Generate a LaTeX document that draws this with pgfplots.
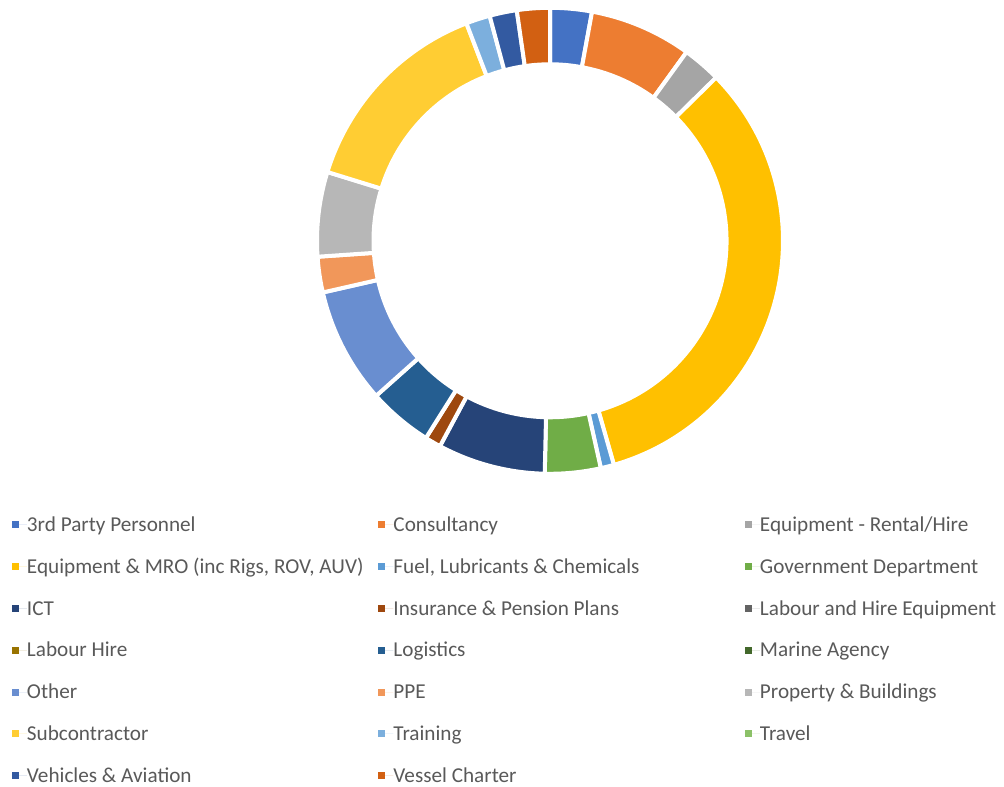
\documentclass[border=0pt]{standalone}
\usepackage{pgfplots}
\pgfplotsset{compat=1.18}
\usepackage{pgfplotstable}
\usepackage{fontspec}
\setmainfont{Carlito}
\definecolor{legendgray}{HTML}{595959}
\definecolor{c1}{HTML}{4472C4}
\definecolor{c2}{HTML}{ED7D31}
\definecolor{c3}{HTML}{A5A5A5}
\definecolor{c4}{HTML}{FFC000}
\definecolor{c5}{HTML}{5B9BD5}
\definecolor{c6}{HTML}{70AD47}
\definecolor{c7}{HTML}{264478}
\definecolor{c8}{HTML}{9E480E}
\definecolor{c9}{HTML}{636363}
\definecolor{c10}{HTML}{997300}
\definecolor{c11}{HTML}{255E91}
\definecolor{c12}{HTML}{43682B}
\definecolor{c13}{HTML}{698ED0}
\definecolor{c14}{HTML}{F1975A}
\definecolor{c15}{HTML}{B7B7B7}
\definecolor{c16}{HTML}{FFCD33}
\definecolor{c17}{HTML}{7CAFDD}
\definecolor{c18}{HTML}{8CC168}
\definecolor{c19}{HTML}{335AA1}
\definecolor{c20}{HTML}{D26012}

% category share (percent), slice colour
\pgfplotstableread{
value color
2.89  c1
7.08  c2
2.67  c3
32.94 c4
0.92  c5
3.86  c6
7.47  c7
1.11  c8
0     c9
0     c10
4.47  c11
0     c12
8.03  c13
2.47  c14
5.86  c15
14.39 c16
1.67  c17
0     c18
1.89  c19
2.28  c20
}\data

\newcommand{\LE}[1]{\makebox[351.5pt][l]{#1}}

\begin{document}
\begin{tikzpicture}
\useasboundingbox (0,0) rectangle (1004pt,787pt);
\begin{axis}[
  x=1pt, y=1pt,
  xmin=0, xmax=1004, ymin=0, ymax=787,
  at={(0,0)}, anchor=south west,
  hide axis, clip=false,
  legend columns=3,
  legend cell align=left,
  legend image code/.code={\fill[#1] (0pt,-3.5pt) rectangle (7pt,3.5pt); \path (0pt,0pt) -- (15pt,0pt);},
  legend style={at={(axis cs:12,283)}, anchor=north west, draw=none, fill=none,
    inner sep=0pt, outer sep=0pt, row sep=0pt, column sep=0pt,
    font=\fontsize{21.2}{25}\selectfont, text=legendgray,
    nodes={inner sep=0pt, text height=27.6pt, text depth=14.2pt}},
]
\pgfplotstablegetrowsof{\data}
\pgfmathtruncatemacro\N{\pgfplotsretval-1}
\gdef\cum{0}
\pgfplotsforeachungrouped \i in {0,...,\N}{%
  \pgfplotstablegetelem{\i}{value}\of\data \let\sval\pgfplotsretval
  \pgfplotstablegetelem{\i}{color}\of\data \let\slicecol\pgfplotsretval
  \pgfmathsetmacro\aone{90-3.6*\cum}%
  \pgfmathsetmacro\atwo{90-3.6*(\cum+\sval)}%
  \pgfmathsetmacro\cum{\cum+\sval}%
  \ifdim\sval pt>0pt
    \edef\temp{\noexpand\path[fill=\slicecol, draw=white, line width=4pt]
      ([shift={(\aone:233pt)}]axis cs:550,546.2) arc[start angle=\aone, end angle=\atwo, radius=233pt]
      -- ([shift={(\atwo:176.5pt)}]axis cs:550,546.2) arc[start angle=\atwo, end angle=\aone, radius=176.5pt] -- cycle;}%
    \temp
  \fi
}

\addlegendimage{fill=c1, draw=none}\addlegendentry{\LE{3rd Party Personnel}}
\addlegendimage{fill=c2, draw=none}\addlegendentry{\LE{Consultancy}}
\addlegendimage{fill=c3, draw=none}\addlegendentry{Equipment - Rental/Hire}
\addlegendimage{fill=c4, draw=none}\addlegendentry{\LE{Equipment \& MRO (inc Rigs, ROV, AUV)}}
\addlegendimage{fill=c5, draw=none}\addlegendentry{\LE{Fuel, Lubricants \& Chemicals}}
\addlegendimage{fill=c6, draw=none}\addlegendentry{Government Department}
\addlegendimage{fill=c7, draw=none}\addlegendentry{\LE{ICT}}
\addlegendimage{fill=c8, draw=none}\addlegendentry{\LE{Insurance \& Pension Plans}}
\addlegendimage{fill=c9, draw=none}\addlegendentry{Labour and Hire Equipment}
\addlegendimage{fill=c10, draw=none}\addlegendentry{\LE{Labour Hire}}
\addlegendimage{fill=c11, draw=none}\addlegendentry{\LE{Logistics}}
\addlegendimage{fill=c12, draw=none}\addlegendentry{Marine Agency}
\addlegendimage{fill=c13, draw=none}\addlegendentry{\LE{Other}}
\addlegendimage{fill=c14, draw=none}\addlegendentry{\LE{PPE}}
\addlegendimage{fill=c15, draw=none}\addlegendentry{Property \& Buildings}
\addlegendimage{fill=c16, draw=none}\addlegendentry{\LE{Subcontractor}}
\addlegendimage{fill=c17, draw=none}\addlegendentry{\LE{Training}}
\addlegendimage{fill=c18, draw=none}\addlegendentry{Travel}
\addlegendimage{fill=c19, draw=none}\addlegendentry{\LE{Vehicles \& Aviation}}
\addlegendimage{fill=c20, draw=none}\addlegendentry{\LE{Vessel Charter}}
\end{axis}
\end{tikzpicture}
\end{document}
